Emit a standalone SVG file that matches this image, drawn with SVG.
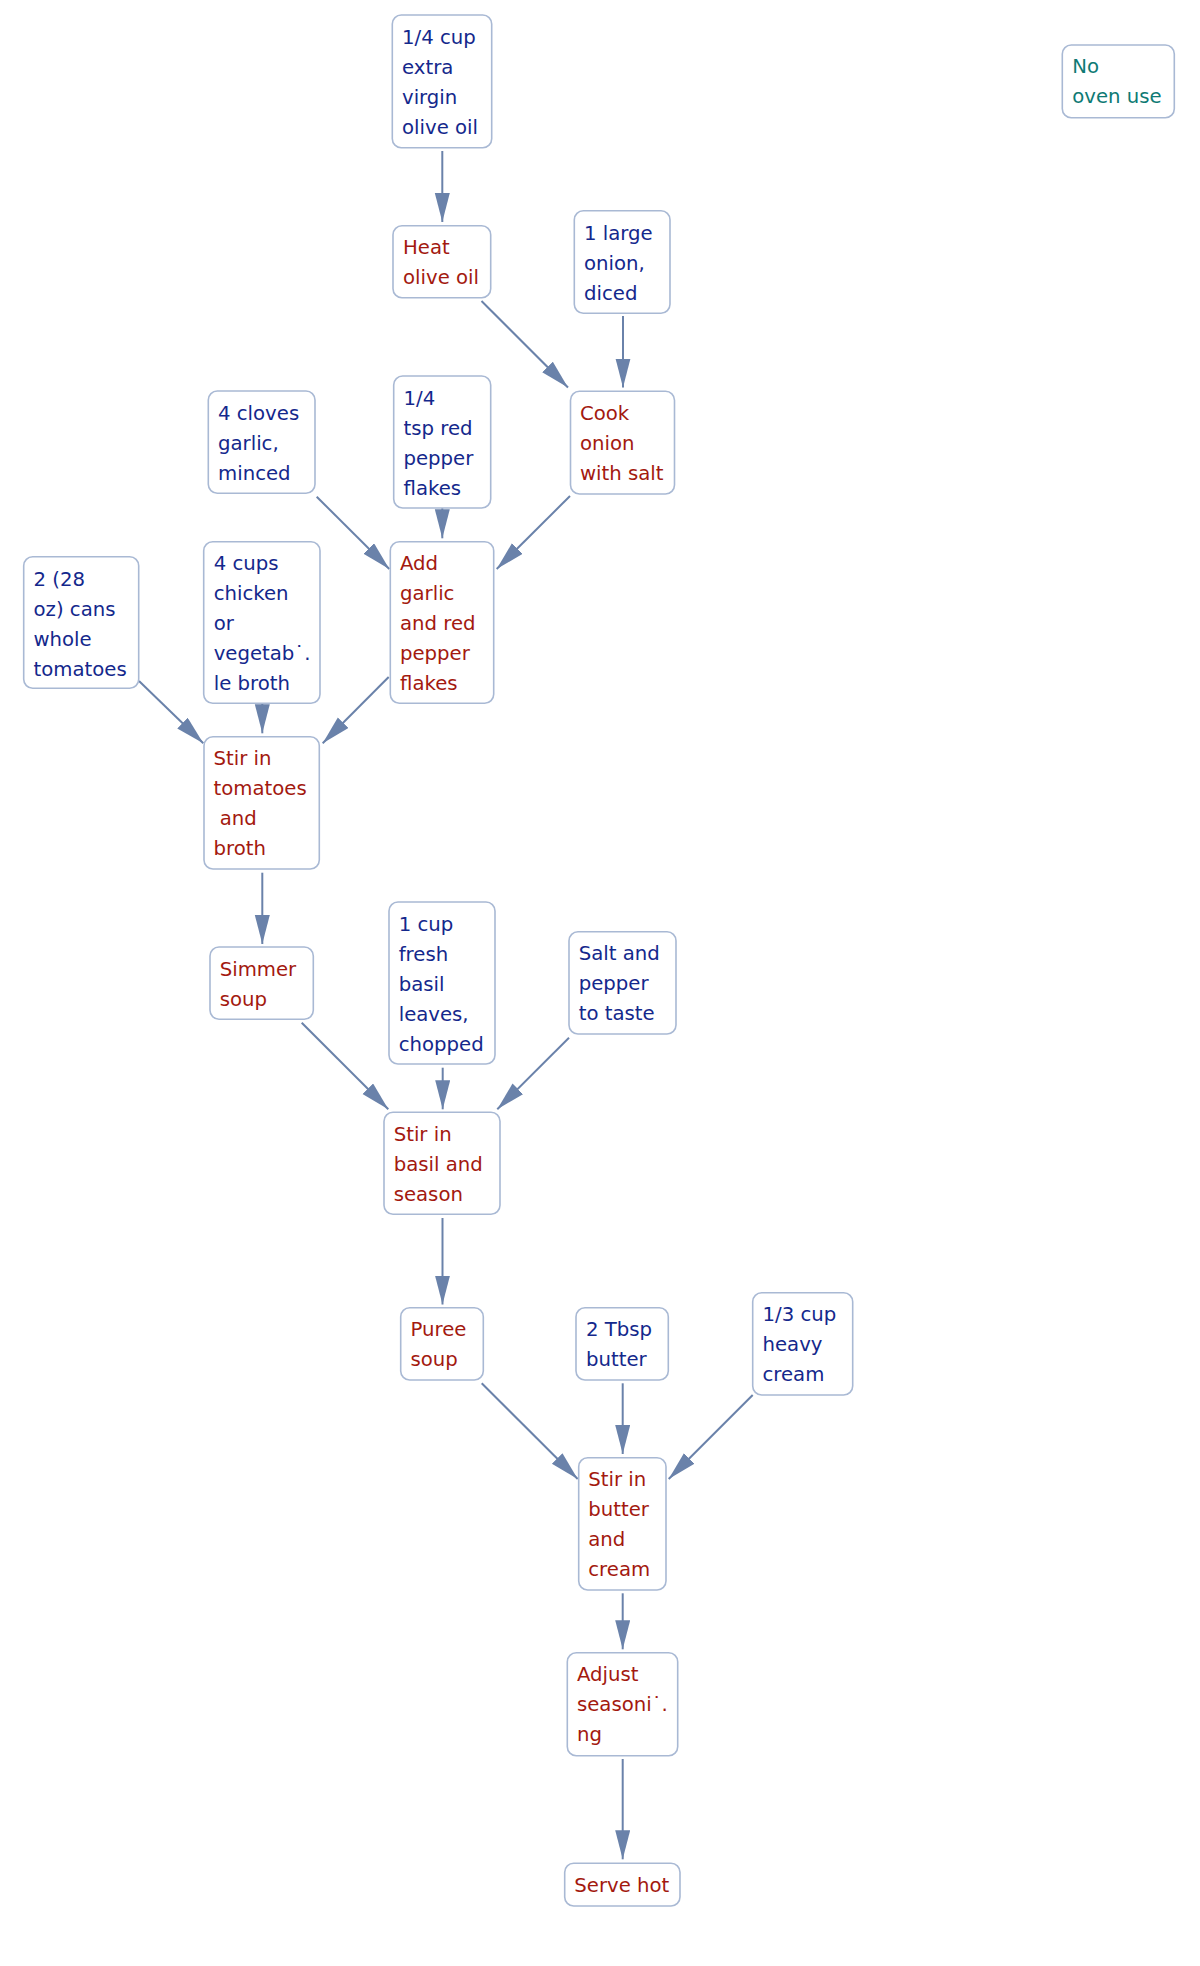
<svg xmlns="http://www.w3.org/2000/svg" width="1200" height="1966" viewBox="0 0 1200 1966">
<style>
.box{fill:#ffffff;stroke:#a9b9d4;stroke-width:1.6}
text{font-family:"DejaVu Sans","Liberation Sans",sans-serif;font-size:19.7px}
.ing{fill:#14288c}
.step{fill:#a3190f}
.note{fill:#0e7a74}
.edge{fill:none;stroke:#6a82aa;stroke-width:2}
</style>
<defs>
<marker id="ah" markerUnits="userSpaceOnUse" markerWidth="30" markerHeight="16" refX="29" refY="7.5" orient="auto">
<path d="M0,0 L29,7.5 L0,15 z" fill="#6a82aa"/>
</marker>
</defs>
<rect width="1200" height="1966" fill="#ffffff"/>
<g id="connectors">
<path class="edge" marker-end="url(#ah)" d="M442.3,151 L442.3,222"/>
<path class="edge" marker-end="url(#ah)" d="M481.5,301 L568,387.5"/>
<path class="edge" marker-end="url(#ah)" d="M623,316 L623,387.5"/>
<path class="edge" marker-end="url(#ah)" d="M316.7,496.7 L389.3,569"/>
<path class="edge" marker-end="url(#ah)" d="M442.3,508 L442.3,538.3"/>
<path class="edge" marker-end="url(#ah)" d="M570,496 L496.7,569"/>
<path class="edge" marker-end="url(#ah)" d="M139,681 L203.3,743.3"/>
<path class="edge" marker-end="url(#ah)" d="M262.3,704 L262.3,733.3"/>
<path class="edge" marker-end="url(#ah)" d="M388.7,677 L322.7,743.3"/>
<path class="edge" marker-end="url(#ah)" d="M262.3,872.7 L262.3,944"/>
<path class="edge" marker-end="url(#ah)" d="M301.7,1022.7 L388.3,1109.3"/>
<path class="edge" marker-end="url(#ah)" d="M442.7,1067.7 L442.7,1109.3"/>
<path class="edge" marker-end="url(#ah)" d="M569,1037.7 L497.3,1109.3"/>
<path class="edge" marker-end="url(#ah)" d="M442.5,1218 L442.5,1304.5"/>
<path class="edge" marker-end="url(#ah)" d="M481.7,1383.3 L577.7,1479"/>
<path class="edge" marker-end="url(#ah)" d="M622.7,1383.3 L622.7,1454"/>
<path class="edge" marker-end="url(#ah)" d="M752.7,1395 L668.7,1479"/>
<path class="edge" marker-end="url(#ah)" d="M622.7,1593.3 L622.7,1649.3"/>
<path class="edge" marker-end="url(#ah)" d="M622.7,1759 L622.7,1859.3"/>
</g>
<g id="n-oil"><rect class="box" x="392.3" y="15" width="99.4" height="132.7" rx="9"/>
<text class="ing" x="402" y="44">1/4 cup</text><text class="ing" x="402" y="74">extra</text><text class="ing" x="402" y="104">virgin</text><text class="ing" x="402" y="134">olive oil</text></g>
<g id="n-heat"><rect class="box" x="393" y="225.7" width="97.7" height="72" rx="9"/>
<text class="step" x="403" y="254.3">Heat</text><text class="step" x="403" y="284.3">olive oil</text></g>
<g id="n-onion"><rect class="box" x="574.3" y="210.7" width="95.7" height="102.6" rx="9"/>
<text class="ing" x="584" y="239.5">1 large</text><text class="ing" x="584" y="269.5">onion,</text><text class="ing" x="584" y="299.5">diced</text></g>
<g id="n-cook"><rect class="box" x="570.5" y="391.2" width="104" height="102.8" rx="9"/>
<text class="step" x="580" y="420">Cook</text><text class="step" x="580" y="450">onion</text><text class="step" x="580" y="480">with salt</text></g>
<g id="n-garlic"><rect class="box" x="208.3" y="391" width="106.7" height="102.3" rx="9"/>
<text class="ing" x="218" y="419.5">4 cloves</text><text class="ing" x="218" y="449.5">garlic,</text><text class="ing" x="218" y="479.5">minced</text></g>
<g id="n-pepper"><rect class="box" x="393.7" y="376" width="97" height="132" rx="9"/>
<text class="ing" x="403.5" y="404.5">1/4</text><text class="ing" x="403.5" y="434.5">tsp red</text><text class="ing" x="403.5" y="464.5">pepper</text><text class="ing" x="403.5" y="494.5">flakes</text></g>
<g id="n-tomatoes"><rect class="box" x="23.7" y="556.7" width="115" height="131.6" rx="9"/>
<text class="ing" x="33.5" y="585.5">2 (28</text><text class="ing" x="33.5" y="615.5">oz) cans</text><text class="ing" x="33.5" y="645.5">whole</text><text class="ing" x="33.5" y="675.5">tomatoes</text></g>
<g id="n-broth"><rect class="box" x="203.7" y="541.7" width="116.3" height="161.6" rx="9"/>
<text class="ing" x="213.7" y="570">4 cups</text><text class="ing" x="213.7" y="600">chicken</text><text class="ing" x="213.7" y="630">or</text><text class="ing" x="213.7" y="660">vegetab˙.</text><text class="ing" x="213.7" y="690">le broth</text></g>
<g id="n-add"><rect class="box" x="390.3" y="541.7" width="103.4" height="161.6" rx="9"/>
<text class="step" x="400" y="570">Add</text><text class="step" x="400" y="600">garlic</text><text class="step" x="400" y="630">and red</text><text class="step" x="400" y="660">pepper</text><text class="step" x="400" y="690">flakes</text></g>
<g id="n-stir1"><rect class="box" x="204" y="736.7" width="115.3" height="132.3" rx="9"/>
<text class="step" x="213.5" y="765">Stir in</text><text class="step" x="213.5" y="795">tomatoes</text><text class="step" x="213.5" y="825" xml:space="preserve"> and</text><text class="step" x="213.5" y="855">broth</text></g>
<g id="n-simmer"><rect class="box" x="210" y="947" width="103.3" height="72.3" rx="9"/>
<text class="step" x="219.7" y="975.5">Simmer</text><text class="step" x="219.7" y="1005.5">soup</text></g>
<g id="n-basil"><rect class="box" x="389" y="902" width="106" height="162" rx="9"/>
<text class="ing" x="398.7" y="930.5">1 cup</text><text class="ing" x="398.7" y="960.5">fresh</text><text class="ing" x="398.7" y="990.5">basil</text><text class="ing" x="398.7" y="1020.5">leaves,</text><text class="ing" x="398.7" y="1050.5">chopped</text></g>
<g id="n-salt"><rect class="box" x="569" y="931.7" width="107" height="102.3" rx="9"/>
<text class="ing" x="578.7" y="960">Salt and</text><text class="ing" x="578.7" y="990">pepper</text><text class="ing" x="578.7" y="1020">to taste</text></g>
<g id="n-stir2"><rect class="box" x="384" y="1112.3" width="116" height="102" rx="9"/>
<text class="step" x="393.7" y="1141">Stir in</text><text class="step" x="393.7" y="1171">basil and</text><text class="step" x="393.7" y="1201">season</text></g>
<g id="n-puree"><rect class="box" x="400.7" y="1307.7" width="82.6" height="72.3" rx="9"/>
<text class="step" x="410.5" y="1336.3">Puree</text><text class="step" x="410.5" y="1366.3">soup</text></g>
<g id="n-butter"><rect class="box" x="576" y="1307.7" width="92.3" height="72.3" rx="9"/>
<text class="ing" x="586" y="1336.3">2 Tbsp</text><text class="ing" x="586" y="1366.3">butter</text></g>
<g id="n-cream"><rect class="box" x="752.7" y="1292.7" width="100" height="102.3" rx="9"/>
<text class="ing" x="762.5" y="1321.3">1/3 cup</text><text class="ing" x="762.5" y="1351.3">heavy</text><text class="ing" x="762.5" y="1381.3">cream</text></g>
<g id="n-stir3"><rect class="box" x="578.7" y="1457.7" width="87.3" height="132.3" rx="9"/>
<text class="step" x="588.3" y="1486.3">Stir in</text><text class="step" x="588.3" y="1516.3">butter</text><text class="step" x="588.3" y="1546.3">and</text><text class="step" x="588.3" y="1576.3">cream</text></g>
<g id="n-adjust"><rect class="box" x="567.3" y="1652.7" width="110.4" height="103" rx="9"/>
<text class="step" x="577" y="1681.3">Adjust</text><text class="step" x="577" y="1711.3">seasoni˙.</text><text class="step" x="577" y="1741.3">ng</text></g>
<g id="n-serve"><rect class="box" x="564.7" y="1863.3" width="115.3" height="42.7" rx="9"/>
<text class="step" x="574.3" y="1891.7">Serve hot</text></g>
<g id="n-note"><rect class="box" x="1062.3" y="45" width="112" height="72.7" rx="9"/>
<text class="note" x="1072.3" y="73.3">No</text><text class="note" x="1072.3" y="103.3">oven use</text></g>
</svg>
